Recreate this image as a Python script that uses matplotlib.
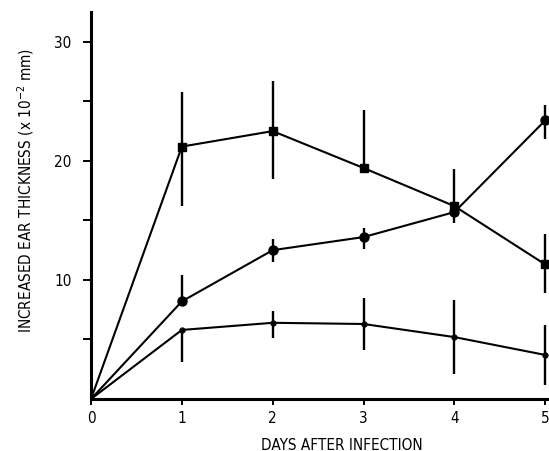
import matplotlib
matplotlib.use('Agg')
import matplotlib.pyplot as plt

# days after infection
days = [0, 1, 2, 3, 4, 5]

# upper group (square markers)
sq_val = [0, 21.2, 22.5, 19.4, 16.2, 11.3]
sq_lo = [0, 16.2, 18.5, 19.4, 15.5, 8.9]
sq_hi = [0, 25.8, 26.7, 24.3, 19.3, 13.9]

# middle group (round markers)
ci_val = [0, 8.2, 12.5, 13.6, 15.7, 23.4]
ci_lo = [0, 8.2, 11.5, 12.6, 14.8, 21.8]
ci_hi = [0, 10.4, 13.4, 14.4, 16.3, 24.7]

# lower group (small dots)
dt_val = [0, 5.8, 6.4, 6.3, 5.2, 3.7]
dt_lo = [0, 3.1, 5.1, 4.1, 2.1, 1.2]
dt_hi = [0, 5.8, 7.4, 8.5, 8.3, 6.2]

y_major = [10, 20, 30]
y_minor = [5, 15, 25]

plt.rcParams['font.family'] = ['DejaVu Sans']
plt.rcParams['font.stretch'] = 'condensed'
plt.rcParams['mathtext.fontset'] = 'custom'
plt.rcParams['mathtext.rm'] = 'DejaVu Sans:stretch=condensed'
plt.rcParams['mathtext.default'] = 'regular'


def err(val, lo, hi):
    # asymmetric error lengths, skipping the origin point
    below = [v - l for v, l in zip(val, lo)][1:]
    above = [h - v for v, h in zip(val, hi)][1:]
    return [below, above]


fig = plt.figure(figsize=(5.49, 4.51), dpi=100)
ax = fig.add_axes([0.1658, 0.1153, 0.834, 0.858])

for val, lo, hi in [(sq_val, sq_lo, sq_hi), (ci_val, ci_lo, ci_hi), (dt_val, dt_lo, dt_hi)]:
    ax.errorbar(days[1:], val[1:], yerr=err(val, lo, hi), fmt='none', ecolor='black', elinewidth=1.7)

pts = list(range(1, 6))
ax.plot(days, sq_val, color='black', lw=1.5, marker='s', markersize=6, markevery=pts)
ax.plot(days, ci_val, color='black', lw=1.5, marker='o', markersize=6.5, markevery=pts)
ax.plot(days, dt_val, color='black', lw=1.5, marker='o', markersize=3.5, markevery=pts)

ax.set_xlim(0, 5.04)
ax.set_ylim(0, 32.5)
ax.set_xticks(days)
ax.set_yticks(y_major)
ax.set_yticks(y_minor, minor=True)

for s in ['top', 'right']:
    ax.spines[s].set_visible(False)
for s in ['left', 'bottom']:
    ax.spines[s].set_linewidth(2.2)

ax.tick_params(axis='both', which='both', direction='out', width=1.4, labelsize=11)
ax.tick_params(axis='y', which='both', length=6, pad=8)
ax.tick_params(axis='x', which='major', length=4.5, pad=4)

ax.set_xlabel('DAYS AFTER INFECTION', fontsize=11, va='center')
ax.xaxis.set_label_coords(0.547, -0.119)
ax.set_ylabel('INCREASED EAR THICKNESS (x 10$^{-2}$ mm)', fontsize=11, va='center')
ax.yaxis.set_label_coords(-0.142, 0.54)

fig.savefig('out.png', dpi=100)
